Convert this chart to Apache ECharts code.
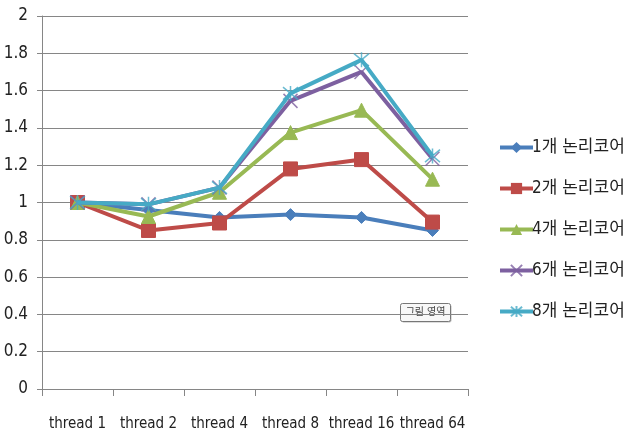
<!DOCTYPE html>
<html>
<head>
<meta charset="utf-8">
<script src="https://cdn.jsdelivr.net/npm/echarts@6/dist/echarts.min.js"></script>
<style>
  html, body { margin: 0; padding: 0; background: #fff; }
  #chart { width: 627px; height: 437px; }
</style>
</head>
<body>
<div id="chart"></div>
<script>
const categories = ['thread 1', 'thread 2', 'thread 4', 'thread 8', 'thread 16', 'thread 64']
const seriesNames = ['1개 논리코어', '2개 논리코어', '4개 논리코어', '6개 논리코어', '8개 논리코어']
const core1 = [1.0, 0.96, 0.92, 0.935, 0.92, 0.85]
const core2 = [1.0, 0.85, 0.89, 1.18, 1.23, 0.895]
const core4 = [1.0, 0.925, 1.055, 1.375, 1.495, 1.125]
const core6 = [1.0, 0.99, 1.08, 1.545, 1.70, 1.235]
const core8 = [1.0, 0.99, 1.08, 1.585, 1.765, 1.25]
const yTicks = { min: 0, max: 2, interval: 0.2 }

const colors = ['#4a7ebb', '#be4b48', '#98b954', '#7d60a0', '#46aac5']
const crossPath = 'path://M0,0L10,10M10,0L0,10'
const starPath = 'path://M0,0L10,10M10,0L0,10M5,-1L5,11'
const symbols = ['diamond', 'rect', 'triangle', crossPath, starPath]
const sizes = [12, 14, 14, 14, 15]
const data = [core1, core2, core4, core6, core8]

const font = "'Liberation Sans Narrow', 'DejaVu Sans Condensed', 'Noto Sans CJK KR', sans-serif"

const chart = echarts.init(document.getElementById('chart'))

let option = {
  animation: false,
  grid: { left: 42, right: 159, top: 16, bottom: 48 },
  legend: {
    orient: 'vertical',
    left: 493,
    top: 134,
    itemGap: 24,
    itemWidth: 33,
    itemHeight: 14,
    lineStyle: { width: 4 },
    textStyle: { fontFamily: font, fontSize: 17, color: '#222', padding: [4, 0, 0, -6] },
    data: seriesNames
  },
  xAxis: {
    type: 'category',
    data: categories,
    boundaryGap: true,
    axisLine: { lineStyle: { color: '#868686', width: 1 } },
    axisTick: { show: true, length: 7, interval: 0, lineStyle: { color: '#868686' } },
    axisLabel: { interval: 0, fontFamily: font, fontSize: 15, color: '#222', margin: 28 }
  },
  yAxis: {
    type: 'value',
    min: yTicks.min,
    max: yTicks.max,
    interval: yTicks.interval,
    axisLine: { show: true, lineStyle: { color: '#868686' } },
    axisTick: { show: true, length: 5, lineStyle: { color: '#868686' } },
    splitLine: { lineStyle: { color: '#868686' } },
    axisLabel: { fontFamily: font, fontSize: 17, color: '#222', margin: 14 }
  },
  series: seriesNames.map((name, i) => ({
    name: name,
    type: 'line',
    data: data[i],
    symbol: symbols[i],
    symbolSize: sizes[i],
    showAllSymbol: true,
    lineStyle: { color: colors[i], width: 4 },
    itemStyle: i >= 3
      ? { color: 'none', borderColor: colors[i], borderWidth: 1.5, opacity: 0.8 }
      : { color: colors[i], borderColor: colors[i] },
    z: 2 + i
  })),
  graphic: [{
    type: 'group',
    left: 400,
    top: 303,
    children: [
      { type: 'rect', shape: { x: 1, y: 1, width: 50, height: 18, r: 2 }, style: { fill: '#bbb' } },
      { type: 'rect', shape: { x: 0, y: 0, width: 50, height: 18, r: 2 }, style: { fill: '#f8f8f8', stroke: '#777', lineWidth: 1 } },
      { type: 'text', style: { x: 25, y: 9, text: '그림 영역', fontFamily: font, fontSize: 10, fill: '#444', align: 'center', verticalAlign: 'middle' } }
    ]
  }]
}

chart.setOption(option)
</script>
</body>
</html>
